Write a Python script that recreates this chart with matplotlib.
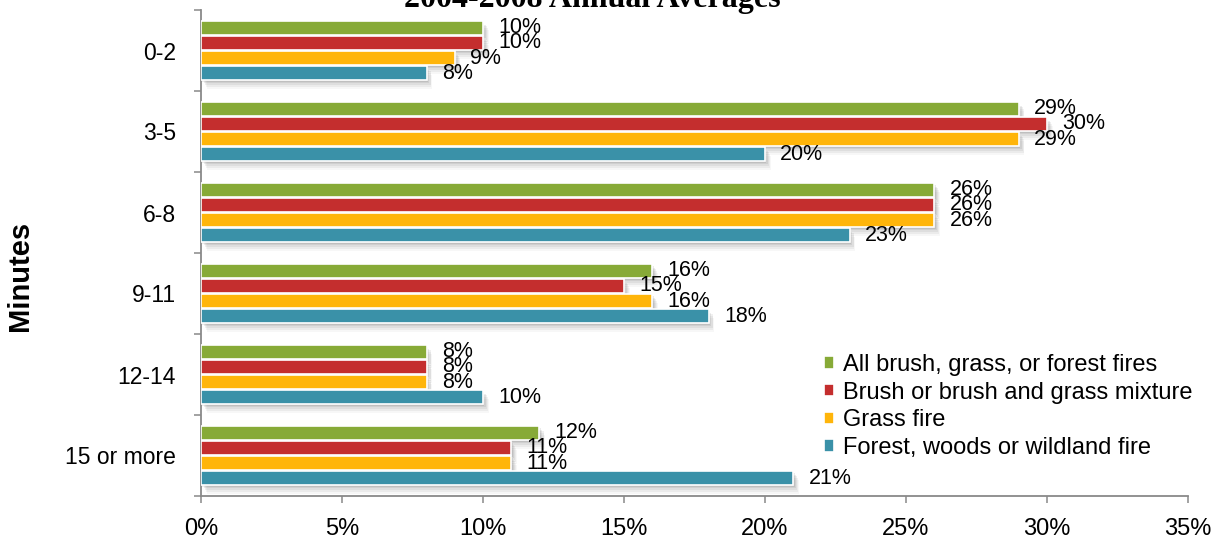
import matplotlib
matplotlib.use("Agg")
import matplotlib.pyplot as plt
import matplotlib.patheffects as pe
import numpy as np

categories = ["0-2", "3-5", "6-8", "9-11", "12-14", "15 or more"]
series_names = ["All brush, grass, or forest fires",
                "Brush or brush and grass mixture",
                "Grass fire",
                "Forest, woods or wildland fire"]
all_fires = [10, 29, 26, 16, 8, 12]
brush = [10, 30, 26, 15, 8, 11]
grass = [9, 29, 26, 16, 8, 11]
forest = [8, 20, 23, 18, 10, 21]
series_values = [all_fires, brush, grass, forest]
colors = ["#87AA37", "#C42E2E", "#FFB50A", "#3A91A8"]
xticks = [0, 5, 10, 15, 20, 25, 30, 35]
title = "2004-2008 Annual Averages"
ylabel = "Minutes"

plt.rcParams['font.family'] = ['Liberation Sans', 'DejaVu Sans']

fig = plt.figure(figsize=(12.18, 5.48), dpi=100)
ax = fig.add_axes([201/1218, 52/548, 987/1218, 486/548])

y = np.arange(len(categories))
offsets = [-0.278, -0.093, 0.093, 0.278]
bh = 0.165
shadow = [pe.SimplePatchShadow(offset=o, shadow_rgbFace='#404040', alpha=a)
          for o, a in [((1, -1.5), 0.10), ((2, -2.5), 0.09), ((3, -3.5), 0.08),
                       ((3.5, -5), 0.06), ((4, -6.5), 0.04)]] + [pe.Normal()]
for vals, off, col, name in zip(series_values, offsets, colors, series_names):
    bars = ax.barh(y + off, vals, height=bh, color=col, edgecolor='white',
                   linewidth=1.2, label=name, zorder=3)
    for b in bars:
        b.set_path_effects(shadow)
    for yi, v in zip(y + off, vals):
        ax.annotate(f"{v}%", xy=(v, yi), xytext=(11, 0), textcoords='offset points',
                    va='center', ha='left', fontsize=15.5, zorder=5)

ax.set_ylim(len(categories) - 0.5, -0.5)
ax.set_xlim(0, 35)
ax.set_xticks(xticks)
ax.set_xticklabels([f"{t}%" for t in xticks], fontsize=17)
ax.set_yticks(y)
ax.set_yticklabels(categories, fontsize=16.5)
ax.set_yticks(np.arange(-0.5, len(categories), 1), minor=True)
ax.tick_params(axis='y', which='major', length=0, pad=18)
ax.tick_params(axis='y', which='minor', length=5, width=1.1, color='#898989', direction='out')
ax.tick_params(axis='x', which='major', length=5, width=1.1, color='#898989', pad=11)
for s in ['top', 'right']:
    ax.spines[s].set_visible(False)
for s in ['left', 'bottom']:
    ax.spines[s].set_color('#898989')
    ax.spines[s].set_linewidth(1.3)

fig.text(592/1218, 1 - 7/548, title, ha='center', va='baseline',
         fontsize=23, fontweight='bold', family='Liberation Serif')
fig.text(20/1218, 0.497, ylabel, rotation=90, ha='center', va='center',
         fontsize=21, fontweight='bold')

leg = ax.legend(loc='upper left', bbox_to_anchor=(824/1218, 1 - 354/548),
                bbox_transform=fig.transFigure, frameon=False, fontsize=17,
                handlelength=0.42, handleheight=0.42, handletextpad=0.4,
                labelspacing=0.24, borderpad=0, borderaxespad=0)
for h in leg.legend_handles:
    h.set_path_effects([pe.Normal()])

fig.savefig("out.png", dpi=100)
